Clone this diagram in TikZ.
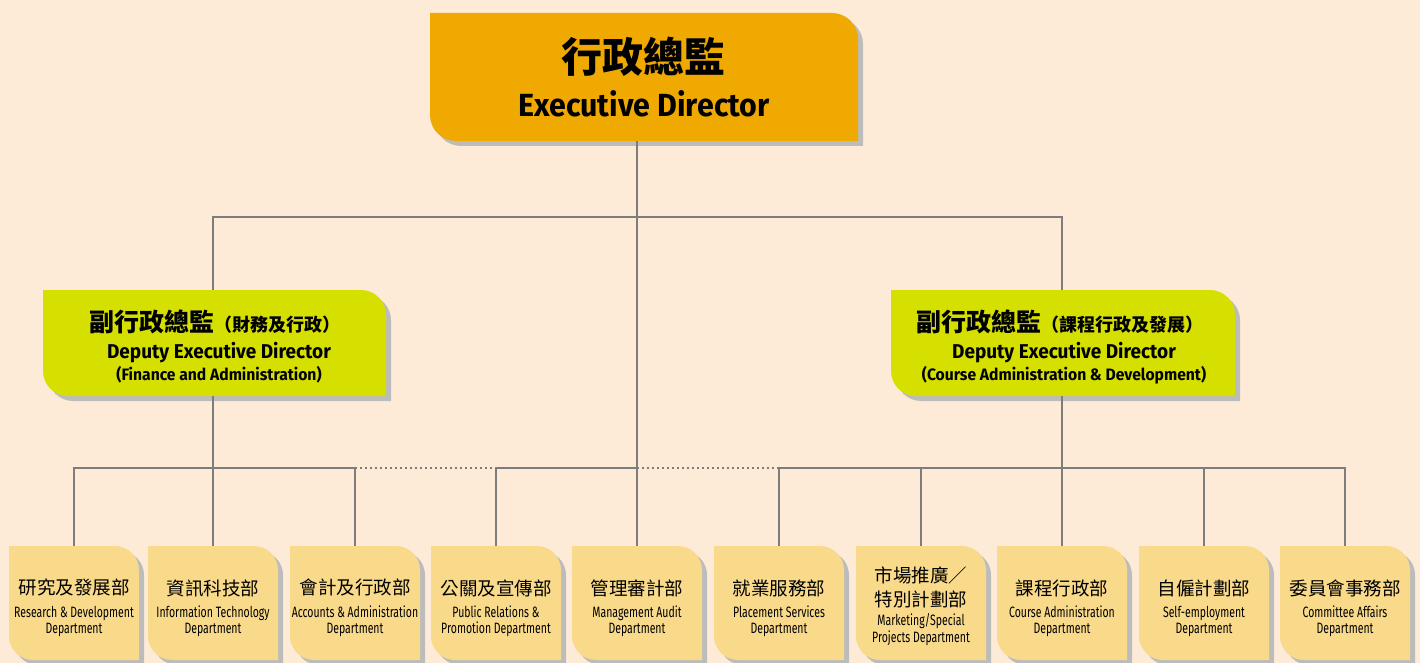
\documentclass[tikz,border=0pt]{standalone}
\usepackage{fontspec}
\usetikzlibrary{calc}
\newfontfamily\cjk{Noto Sans CJK TC}
\newfontfamily\hen[FakeStretch=0.95]{Fira Sans}
\newfontfamily\ben[FakeStretch=0.70]{Fira Sans}
\definecolor{bgc}{HTML}{FDEBD8}
\definecolor{edc}{HTML}{F0A900}
\definecolor{depc}{HTML}{D5E000}
\definecolor{deptc}{HTML}{F9DA8B}
\definecolor{shadowc}{HTML}{BCBCBC}
\definecolor{linec}{HTML}{7D7D7D}
\pgfdeclarelayer{back}
\pgfdeclarelayer{bg}
\pgfsetlayers{back,bg,main}
\newcommand\orgpath[2]{(#1.north west) -- ($(#1.north east)+(-#2,0)$) .. controls ($(#1.north east)+(-0.448*#2,0)$) and ($(#1.north east)+(0,0.448*#2)$) .. ($(#1.north east)+(0,#2)$) -- (#1.south east) -- ($(#1.south west)+(#2,0)$) .. controls ($(#1.south west)+(0.448*#2,0)$) and ($(#1.south west)+(0,-0.448*#2)$) .. ($(#1.south west)+(0,-#2)$) -- cycle}
\newcommand\orgshape[3]{%
  \begin{pgfonlayer}{bg}
    \fill[shadowc, transform canvas={xshift=5pt,yshift=-5pt}] \orgpath{#1}{#3};
    \fill[#2] \orgpath{#1}{#3};
  \end{pgfonlayer}}
\tikzset{
  conn/.style={draw=linec, line width=1.8pt},
  dotline/.style={draw=linec, line width=1.8pt, dash pattern=on 2pt off 3pt},
  areabox/.style={inner sep=0pt, outer sep=0pt, draw=none},
  zhdept/.style={inner sep=0pt, font=\cjk\fontsize{18.5}{18.5}\selectfont},
  endept/.style={inner sep=0pt, anchor=base, font=\ben\fontsize{15}{15}\selectfont},
  zhhead/.style={inner sep=0pt, font=\cjk\bfseries},
  enhead/.style={inner sep=0pt, anchor=base, font=\hen\bfseries\fontsize{20}{20}\selectfont},
  ensub/.style={inner sep=0pt, anchor=base, font=\hen\bfseries\fontsize{16.5}{16.5}\selectfont},
}
\newcommand\dept[5]{%
  \node[areabox, minimum width=130pt, minimum height=114pt] (#1) at (#2,603) {};
  \orgshape{#1}{deptc}{24}
  \node[zhdept] (#1z) at (#2,588) {#3};
  \node[endept] (#1a) at (#2,617) {#4};
  \node[endept] (#1b) at (#2,633) {#5};
}
\begin{document}
\begin{tikzpicture}[x=1pt,y=-1pt]
\begin{pgfonlayer}{back}
\fill[bgc] (0,0) rectangle (1420,663);
\end{pgfonlayer}
\useasboundingbox (0,0) rectangle (1420,663);

% Executive Director
\node[areabox, minimum width=428pt, minimum height=128pt] (ed) at (644,77) {};
\orgshape{ed}{edc}{26}
\node[zhhead, font=\cjk\bfseries\fontsize{41}{41}\selectfont] (edzh) at (643,57) {行政總監};
\node[inner sep=0pt, anchor=base, font=\hen\bfseries\fontsize{32}{32}\selectfont] (eden) at (644,117) {Executive Director};

% Deputies
\node[areabox, minimum width=343pt, minimum height=106pt] (dl) at (214.5,343) {};
\orgshape{dl}{depc}{25}
\node[zhhead] (dlzh) at (215,322) {{\fontsize{25}{25}\selectfont 副行政總監}{\fontsize{18}{18}\selectfont （財務及行政）}};
\node[enhead] (dlen) at (219,358) {Deputy Executive Director};
\node[ensub] (dlsub) at (219,380) {(Finance and Administration)};

\node[areabox, minimum width=344pt, minimum height=106pt] (dr) at (1063,343) {};
\orgshape{dr}{depc}{25}
\node[zhhead] (drzh) at (1060,322) {{\fontsize{25}{25}\selectfont 副行政總監}{\fontsize{18}{18}\selectfont （課程行政及發展）}};
\node[enhead] (dren) at (1064,358) {Deputy Executive Director};
\node[ensub] (drsub) at (1064,380) {(Course Administration \& Development)};

% Departments
\dept{b1}{74}{研究及發展部}{Research \& Development}{Department}
\dept{b2}{213}{資訊科技部}{Information Technology}{Department}
\dept{b3}{355}{會計及行政部}{Accounts \& Administration}{Department}
\dept{b4}{496}{公關及宣傳部}{Public Relations \&}{Promotion Department}
\dept{b5}{637}{管理審計部}{Management Audit}{Department}
\dept{b6}{779}{就業服務部}{Placement Services}{Department}
\node[areabox, minimum width=130pt, minimum height=114pt] (b7) at (921,603) {};
\orgshape{b7}{deptc}{24}
\node[zhdept] (b7z) at (921,575) {市場推廣／};
\node[zhdept] (b7y) at (921,599) {特別計劃部};
\node[endept] (b7a) at (921,625) {Marketing/Special};
\node[endept] (b7b) at (921,642) {Projects Department};
\dept{b8}{1062}{課程行政部}{Course Administration}{Department}
\dept{b9}{1204}{自僱計劃部}{Self-employment}{Department}
\dept{b10}{1345}{委員會事務部}{Committee Affairs}{Department}

% Connectors
\coordinate (j1) at (637,217);
\coordinate (j2) at (637,468);
\draw[conn] (ed.south -| b5.north) -- (b5.north);
\draw[conn] (dl.north -| b2.north) |- (j1) -| (dr.north -| b8.north);
\draw[conn] (dl.south -| b2.north) -- (b2.north);
\draw[conn] (dr.south -| b8.north) -- (b8.north);
\draw[conn] (b1.north) |- (j2 -| b3.north) -- (b3.north);
\draw[dotline] (j2 -| b3.north) -- (j2 -| b4.north);
\draw[conn] (b4.north) |- (j2);
\draw[dotline] (j2) -- (j2 -| b6.north);
\draw[conn] (b6.north) |- (j2 -| b10.north) -- (b10.north);
\draw[conn] (b7.north) -- (b7.north |- j2);
\draw[conn] (b9.north) -- (b9.north |- j2);
\end{tikzpicture}
\end{document}
